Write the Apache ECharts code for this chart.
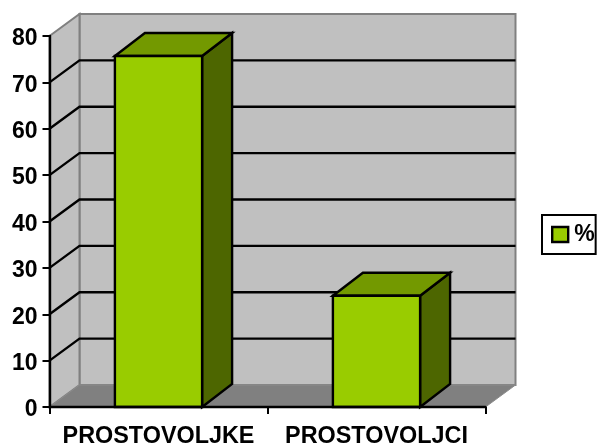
<!DOCTYPE html>
<html>
<head>
<meta charset="utf-8">
<style>html,body{margin:0;padding:0;background:#fff}#c{width:598px;height:443px}</style>
<script src="https://cdn.jsdelivr.net/npm/echarts@6/dist/echarts.min.js"></script>
</head>
<body>
<div id="c"></div>
<script>
const categories = ['PROSTOVOLJKE', 'PROSTOVOLJCI'];
const values = [75.7, 24];
const ticks = [10, 20, 30, 40, 50, 60, 70];
const seriesName = '%';

const DX = 30, DY = -22;
const FONT = '"Liberation Sans", Arial, sans-serif';
const chart = echarts.init(document.getElementById('c'), null, {renderer: 'canvas'});

function poly(points, fill, stroke, w) {
  return {type: 'polygon', shape: {points}, style: {fill, stroke: stroke || 'none', lineWidth: w || 0, lineJoin: 'miter'}};
}
function renderWalls(params, api) {
  const g = params.coordSys;
  const l = g.x, r = g.x + g.width, t = g.y, b = g.y + g.height;
  return {type: 'group', silent: true, children: [
    poly([[l+DX,t+DY],[r+DX,t+DY],[r+DX,b+DY],[l+DX,b+DY]], '#C0C0C0', '#808080', 2),
    poly([[l,t],[l+DX,t+DY],[l+DX,b+DY],[l,b]], '#C0C0C0', '#808080', 2),
    poly([[l,b],[l+DX,b+DY],[r+DX,b+DY],[r,b]], '#808080', '#8c8c8c', 1)
  ]};
}
function renderGrid(params, api) {
  const g = params.coordSys;
  const y = api.coord([0, api.value(0)])[1];
  const l = g.x, r = g.x + g.width;
  return {type: 'polyline', silent: true,
    shape: {points: [[l, y], [l + DX, y + DY], [r + DX, y + DY]]},
    style: {fill: 'none', stroke: '#000', lineWidth: 2.4}};
}
function renderBar(params, api) {
  const c = api.value(0), v = api.value(1);
  const top = api.coord([c, v]), base = api.coord([c, 0]);
  const half = api.size([1, 0])[0] * 0.2;
  const l = top[0] - half, r = top[0] + half, t = top[1], b = base[1];
  const dy = DY - 1;
  return {type: 'group', children: [
    poly([[r,t],[r+DX,t+dy],[r+DX,b+dy],[r,b]], '#4D6600', '#000', 2.4),
    poly([[l,t],[l+DX,t+dy],[r+DX,t+dy],[r,t]], '#739900', '#000', 2.4),
    poly([[l,t],[r,t],[r,b],[l,b]], '#99CC00', '#000', 2.4)
  ]};
}

chart.setOption({
  animation: false,
  backgroundColor: '#fff',
  grid: {left: 49.5, top: 36, width: 436, height: 371, containLabel: false, outerBoundsMode: 'none'},
  legend: {
    data: [{name: seriesName, icon: 'rect'}],
    left: 542, top: 215, padding: [8, 1, 8, 9], itemGap: 0, itemWidth: 16, itemHeight: 15,
    borderColor: '#000', borderWidth: 2, backgroundColor: '#fff', selectedMode: false,
    itemStyle: {borderColor: '#000', borderWidth: 2.4},
    textStyle: {fontFamily: FONT, fontWeight: 'bold', fontSize: 23, color: '#000', padding: [2, 0, 0, 1]}
  },
  xAxis: {
    type: 'category', data: categories, z: 5,
    axisLine: {lineStyle: {color: '#000', width: 2.4}},
    axisTick: {show: true, alignWithLabel: false, length: 7, lineStyle: {color: '#000', width: 2}},
    axisLabel: {interval: 0, margin: 18, color: '#000', fontFamily: FONT, fontWeight: 'bold', fontSize: 23.4}
  },
  yAxis: {
    type: 'value', min: 0, max: 80, interval: 10, z: 5,
    axisLine: {show: true, lineStyle: {color: '#000', width: 2.4}},
    axisTick: {show: true, length: 7, lineStyle: {color: '#000', width: 2}},
    splitLine: {show: false},
    axisLabel: {
      margin: 12, color: '#000', fontFamily: FONT, fontWeight: 'bold', fontSize: 23,
      formatter: v => '{a|' + v + '}',
      rich: {a: {color: '#000', fontFamily: FONT, fontWeight: 'bold', fontSize: 23, padding: [6, 0, 0, 0]}}
    }
  },
  tooltip: {show: false},
  series: [
    {type: 'custom', name: 'walls', z: 1, clip: false, renderItem: renderWalls, data: [[0]], silent: true},
    {type: 'custom', name: 'grid', z: 2, clip: false, renderItem: renderGrid, data: ticks.map(t => [t]), encode: {y: 0}, silent: true},
    {type: 'custom', name: seriesName, z: 3, clip: false, renderItem: renderBar,
      itemStyle: {color: '#99CC00'},
      data: values.map((v, i) => [i, v]), encode: {x: 0, y: 1}}
  ]
});
</script>
</body>
</html>
